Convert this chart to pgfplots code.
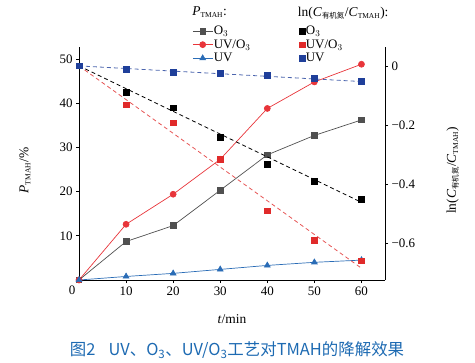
\documentclass[border=0pt]{standalone}
\usepackage{amsmath}
\usepackage{fontspec}
\setmainfont{Liberation Serif}
\newfontfamily\cjk{Noto Sans CJK SC}
\newfontfamily\cjkserif{Noto Sans CJK SC}
\usepackage{pgfplots}
\pgfplotsset{compat=1.18}
\definecolor{cgray}{HTML}{505050}
\definecolor{cred}{HTML}{E8353A}
\definecolor{cblue}{HTML}{2A6CB6}
\definecolor{cnavy}{HTML}{1F3F9A}
\definecolor{cdred}{HTML}{E02A2A}
\definecolor{ccap}{HTML}{1D6AB2}
\newcommand{\tm}{\mbox{\fontsize{7.5}{8}\selectfont TMAH}}
\newcommand{\yj}{\mbox{\cjkserif\fontsize{7.5}{8}\selectfont 有机氮}}
\begin{document}
\begin{tikzpicture}
\pgfplotsset{
  common/.style={
    scale only axis, width=306bp, height=233bp,
    xmin=0, xmax=65, clip=false,
    tick align=outside, major tick length=3bp,
    tick style={black, line width=0.6pt},
    axis line style={-, black, line width=0.8pt},
    ticklabel style={font=\fontsize{13}{14}\selectfont},
    label style={font=\fontsize{13.5}{15}\selectfont},
    /pgf/number format/assume math mode=true,
    legend cell align=left,
  }
}
\begin{axis}[common,
  ymin=0, ymax=52.7,
  axis x line*=bottom, axis y line*=left,
  xtick={10,20,30,40,50,60},
  ytick={10,20,30,40,50},
  xlabel={\textit{t}/min},
  xlabel style={at={(rel axis cs:0.5,0)}, anchor=north, yshift=-31bp},
  ylabel={\textit{P}$_{\tm}$/\%},
  ylabel style={at={(rel axis cs:0,0.47)}, anchor=south, yshift=45bp},
  legend style={draw=none, fill=none, at={(rel axis cs:0.37,1.097)}, anchor=north west,
    font=\fontsize{13}{14}\selectfont, inner sep=0pt, row sep=0.5pt,
    nodes={inner sep=0.8pt, text height=9.5pt, text depth=2pt}},
  legend image code/.code={\draw[mark repeat=2,mark phase=2] plot coordinates {(0cm,0cm)(0.35cm,0cm)(0.7cm,0cm)};},
]
\addplot[cgray, line width=0.7pt, mark=square*, mark size=2.8pt, mark options={fill=cgray}]
  coordinates {(0,0)(10,8.7)(20,12.3)(30,20.3)(40,28.3)(50,32.7)(60,36.2)};
\addlegendentry{O$_3$}
\addplot[cred, line width=0.7pt, mark=*, mark size=3pt, mark options={fill=cred}]
  coordinates {(0,0)(10,12.6)(20,19.4)(30,27.3)(40,38.8)(50,44.8)(60,48.8)};
\addlegendentry{UV/O$_3$}
\addplot[cblue, line width=0.7pt, mark=triangle*, mark size=3.3pt, mark options={fill=cblue}]
  coordinates {(0,0)(10,0.8)(20,1.5)(30,2.4)(40,3.3)(50,4.0)(60,4.5)};
\addlegendentry{UV}
\node[anchor=west, font=\fontsize{13.5}{15}\selectfont, inner sep=0pt] at (rel axis cs:0.37,1.15) {\textit{P}$_{\tm}$:};
\node[anchor=north east, font=\fontsize{13}{14}\selectfont, inner sep=1pt] at (rel axis cs:-0.008,-0.02) {0};
\coordinate (sw) at (rel axis cs:0,0);
\coordinate (ne) at (rel axis cs:1,1);
\end{axis}
\begin{axis}[common,
  ymin=-0.725, ymax=0.064,
  axis x line=none, axis y line*=right,
  ytick={-0.6,-0.4,-0.2,0},
  yticklabels={−0.6,−0.4,−0.2,0},
  ylabel={ln(\textit{C}$_{\yj}$/\textit{C}$_{\tm}$)},
  ylabel style={at={(rel axis cs:1,0.47)}, anchor=north, yshift=-58bp},
  legend style={draw=none, fill=none, at={(rel axis cs:0.72,1.097)}, anchor=north west,
    font=\fontsize{13}{14}\selectfont, inner sep=0pt, row sep=0.5pt,
    nodes={inner sep=0.8pt, text height=9.5pt, text depth=2pt}},
]
\addplot[only marks, black, mark=square*, mark size=2.8pt]
  coordinates {(0,0)(10,-0.09)(20,-0.141)(30,-0.242)(40,-0.332)(50,-0.391)(60,-0.452)};
\addlegendentry{O$_3$}
\addplot[only marks, cdred, mark=square*, mark size=2.8pt]
  coordinates {(0,0)(10,-0.132)(20,-0.192)(30,-0.315)(40,-0.49)(50,-0.591)(60,-0.66)};
\addlegendentry{UV/O$_3$}
\addplot[only marks, cnavy, mark=square*, mark size=2.8pt]
  coordinates {(0,0)(10,-0.011)(20,-0.021)(30,-0.024)(40,-0.031)(50,-0.042)(60,-0.051)};
\addlegendentry{UV}
\addplot[forget plot, black, line width=0.8pt, dash pattern=on 4pt off 3pt] coordinates {(0,0)(60,-0.462)};
\addplot[forget plot, cdred!80, line width=0.8pt, dash pattern=on 4pt off 3pt] coordinates {(0,0)(60,-0.685)};
\addplot[forget plot, cnavy!80, line width=0.8pt, dash pattern=on 4pt off 3pt] coordinates {(0,0)(60,-0.053)};
\node[anchor=west, font=\fontsize{13.5}{15}\selectfont, inner sep=0pt] at (rel axis cs:0.715,1.145) {ln(\textit{C}$_{\yj}$/\textit{C}$_{\tm}$):};
\end{axis}
\node[font=\cjk\fontsize{16.5}{18}\selectfont, color=ccap, anchor=center] at ([shift={(158bp,-70bp)}]sw) {图2\hspace{0.8em}UV、O\textsubscript{3}、UV/O\textsubscript{3}工艺对TMAH的降解效果};
\pgfresetboundingbox
\path ([shift={(-79bp,-83bp)}]sw) rectangle ([shift={(90bp,47bp)}]ne);
\end{tikzpicture}
\end{document}
